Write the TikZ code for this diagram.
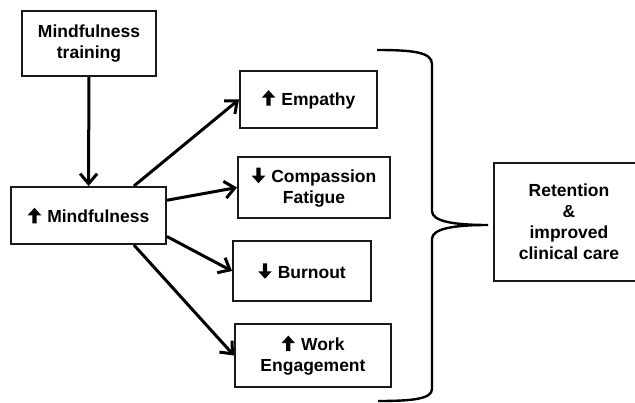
\documentclass[tikz,border=0pt]{standalone}
\usepackage{fontspec}
\setmainfont{Liberation Sans}
\usepackage{tikz}
\usetikzlibrary{arrows.meta}
% heavy arrow marks set in front of the labels
\newcommand{\upmark}{\tikz[baseline=0pt]\fill (-2.1pt,-0.5pt) -- (2.1pt,-0.5pt) -- (2.1pt,7.5pt)
  -- (6.8pt,7.5pt) -- (0pt,15pt) -- (-6.8pt,7.5pt) -- (-2.1pt,7.5pt) -- cycle;\hspace{6pt}}
\newcommand{\downmark}{\tikz[baseline=0pt]\fill (-2.1pt,15pt) -- (2.1pt,15pt) -- (2.1pt,7pt)
  -- (6.8pt,7pt) -- (0pt,-0.5pt) -- (-6.8pt,7pt) -- (-2.1pt,7pt) -- cycle;\hspace{6pt}}
\tikzset{
  flow box/.style={draw=black!90,line width=2pt,inner sep=0pt,align=center,
    font=\bfseries\fontsize{17.5}{21}\selectfont},
  flow arrow/.style={black,line width=3pt,-{Straight Barb[length=10pt,width=17pt,line width=3pt]}},
  flow brace/.style={black,line width=2.4pt}
}
\begin{document}
\begin{tikzpicture}[x=1pt,y=-1pt]
  \useasboundingbox (0,0) rectangle (635,402);
  \node[flow box,minimum width=134,minimum height=65] (train) at (89,43.5) {Mindfulness\\training};
  \node[flow box,minimum width=155,minimum height=57] (mind) at (88.5,215.5) {\upmark Mindfulness};
  \node[flow box,minimum width=137,minimum height=57] (emp) at (308.5,99.5) {\upmark Empathy};
  \node[flow box,minimum width=152,minimum height=61] (comp) at (314,187.5) {\downmark Compassion\\Fatigue};
  \node[flow box,minimum width=138,minimum height=60] (burn) at (302,271) {\downmark Burnout};
  \node[flow box,minimum width=156,minimum height=63] (work) at (313,355.5) {\upmark Work\\Engagement};
  \node[flow box,minimum width=150,minimum height=118] (ret) at (569,222) {Retention\\\&\\improved\\clinical care};
  \draw[flow arrow] (train) -- (mind);
  \draw[flow arrow] (mind.33) -- (emp.west);
  \draw[flow arrow] (mind.11) -- (comp.west);
  \draw[flow arrow] (mind.-15) -- (burn.west);
  \draw[flow arrow] (mind.-33) -- (work.west);
  \coordinate (tip) at (488,225);
  \draw[flow brace] (377,50) .. controls (412,50) and (432,52) .. (432,64)
    -- (432,211) .. controls (432,221) and (452,225) .. (tip)
    .. controls (452,225) and (432,229) .. (432,239)
    -- (432,389) .. controls (432,399) and (412,401) .. (378,401);
\end{tikzpicture}
\end{document}
